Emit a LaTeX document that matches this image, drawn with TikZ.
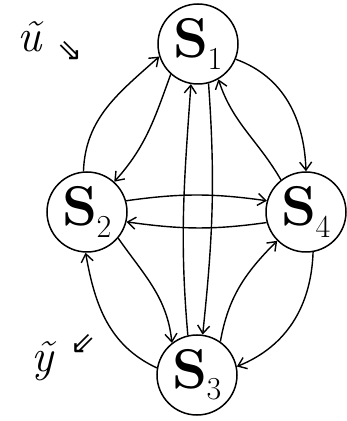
\documentclass[tikz,border=0pt]{standalone}
\usepackage{fontspec}
\newfontfamily\symfont{DejaVu Sans}
\usetikzlibrary{arrows.meta}
\newcommand{\stname}[1]{{\bfseries S}\kern-0.02em\raisebox{-0.2em}{\fontsize{32}{32}\selectfont #1}}
\tikzset{
  st/.style={draw, circle, line width=1.5pt, minimum size=80pt, inner sep=0pt,
    font=\fontsize{56}{56}\selectfont},
  tr/.style={line width=1.4pt, -{Straight Barb[length=8pt,width=12pt,line width=1.4pt]}},
  lab/.style={font=\fontsize{46}{46}\selectfont\itshape},
  sym/.style={font=\symfont\fontsize{30}{30}\selectfont}
}
\begin{document}
\begin{tikzpicture}[x=1pt,y=1pt]
\useasboundingbox (0,0) rectangle (346,421);
\node[st] (s1) at (198,377) {\stname{1}};
\node[st] (s2) at (87,209) {\stname{2}};
\node[st] (s4) at (306,209) {\stname{4}};
\node[st] (s3) at (197,46) {\stname{3}};
\node[lab] (u) at (30,384) {\~u};
\node[sym] (ua) at (70,370) {⇘};
\node[lab] (y) at (42,60) {\~y};
\node[sym] (ya) at (83,77) {⇙};
% S1 - S2
\draw[tr] (s2.95) to[out=88,in=222] (s1.198);
\draw[tr] (s1.228) to[out=250,in=48] (s2.48);
% S1 - S4
\draw[tr] (s1.-22) to[out=-20,in=92] (s4.90);
\draw[tr] (s4.128) to[out=120,in=-72] (s1.-60);
% S2 - S4
\draw[tr] (s2.16) to[out=8,in=172] (s4.164);
\draw[tr] (s4.-165) to[out=-172,in=-8] (s2.-14);
% S1 - S3
\draw[tr] (s3.103) to[out=95,in=-94] (s1.-100);
\draw[tr] (s1.-75) to[out=-86,in=84] (s3.82);
% S2 - S3
\draw[tr] (s3.170) to[out=155,in=-80] (s2.-92);
\draw[tr] (s2.-40) to[out=-55,in=96] (s3.128);
% S3 - S4
\draw[tr] (s3.55) to[out=80,in=-135] (s4.-135);
\draw[tr] (s4.-80) to[out=-92,in=22] (s3.12);
\end{tikzpicture}
\end{document}
